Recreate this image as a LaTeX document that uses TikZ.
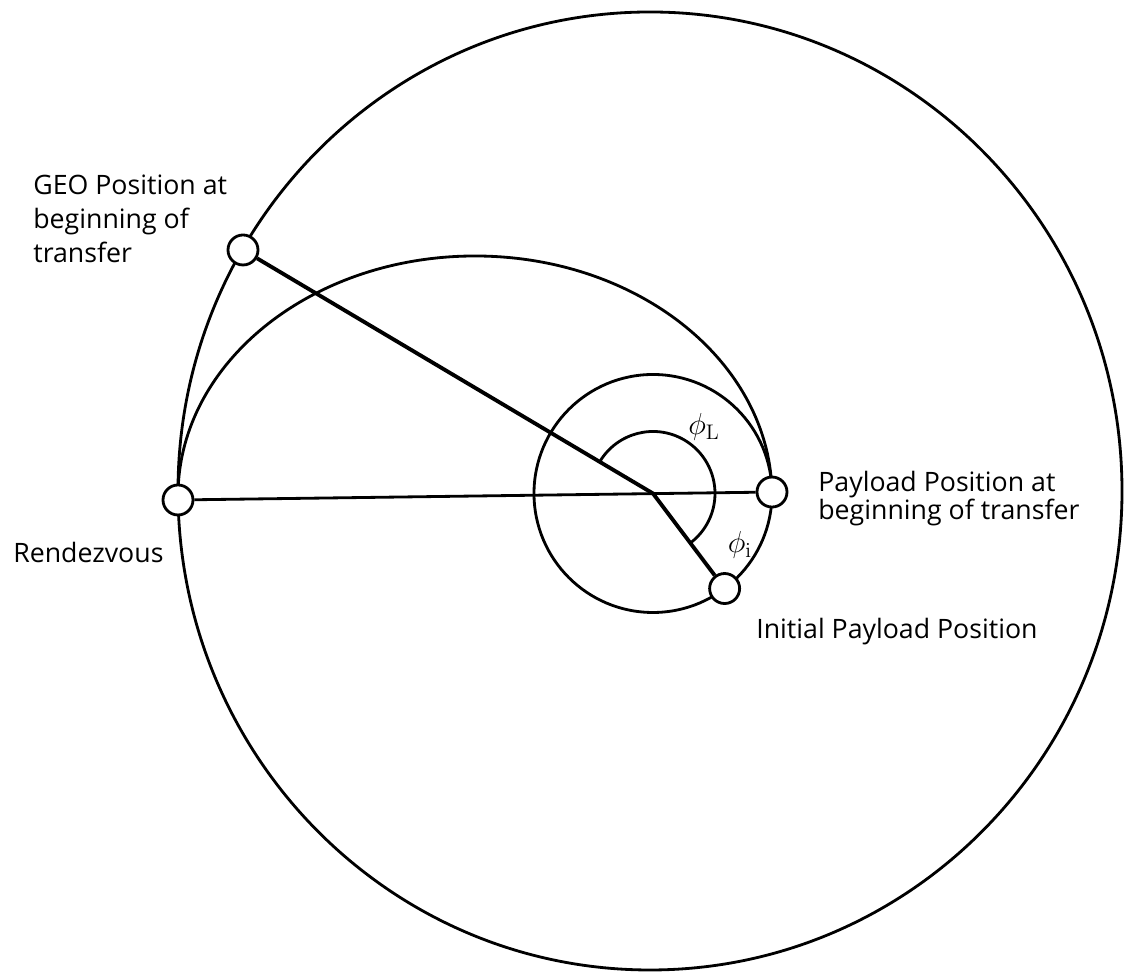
\documentclass[tikz,border=0pt]{standalone}
\usepackage[no-math]{fontspec}
\setmainfont{Open Sans}
\usepackage{tikz}
\usetikzlibrary{positioning, calc}

\begin{document}
\begin{tikzpicture}[
        orbit/.style={draw, line width=1.6pt},
        sat/.style={draw, circle, fill=white, line width=1.6pt,
                    minimum size=0.6cm, inner sep=0pt},
        lbl/.style={font=\fontsize{15.2}{19.4}\selectfont, align=left, inner sep=0pt},
        ang/.style={font=\fontsize{17}{20}\selectfont, inner sep=0pt},
        arm/.style={line width=2.2pt}
    ]
        \useasboundingbox (0,0) rectangle (22.48,19.44);
        \coordinate (earth) at (13.06,9.57);

        % orbits
        \draw[orbit] (13.0,9.62) ellipse [x radius=9.44, y radius=9.58];
        \draw[orbit] (earth) circle [radius=2.38];
        \draw[orbit] (3.56,9.52) arc [start angle=180, end angle=0, x radius=5.94, y radius=4.8];

        % positions
        \node[sat] (geo) at (4.86,14.44) {};
        \node[sat] (rdv) at (3.56,9.44) {};
        \node[sat] (pay) at ($(earth)+(0.7:2.38)$) {};
        \node[sat] (init) at ($(earth)+(-53:2.38)$) {};

        \draw[orbit] (rdv) -- (pay);
        \draw[arm] (geo) -- (earth) -- (init);
        \draw[orbit] ($(earth)+(149.3:1.24)$) arc [start angle=149.3, end angle=-53, radius=1.24];

        % labels
        \node[lbl, anchor=west] (geotxt) at (0.66,15.06) {GEO Position at\\beginning of\\transfer};
        \node[lbl, anchor=west] (rdvtxt) at (0.26,8.40) {Rendezvous};
        \node[lbl, anchor=west, font=\fontsize{15.2}{15.9}\selectfont] (paytxt) at (16.36,9.46) {Payload Position at\\beginning of transfer};
        \node[lbl, anchor=west] (inittxt) at (15.12,6.8) {Initial Payload Position};
        \node[ang] (phiL) at (14.08,10.9) {$\phi_{\mathrm{L}}$};
        \node[ang] (phii) at (14.8,8.54) {$\phi_{\mathrm{i}}$};
\end{tikzpicture}
\end{document}
